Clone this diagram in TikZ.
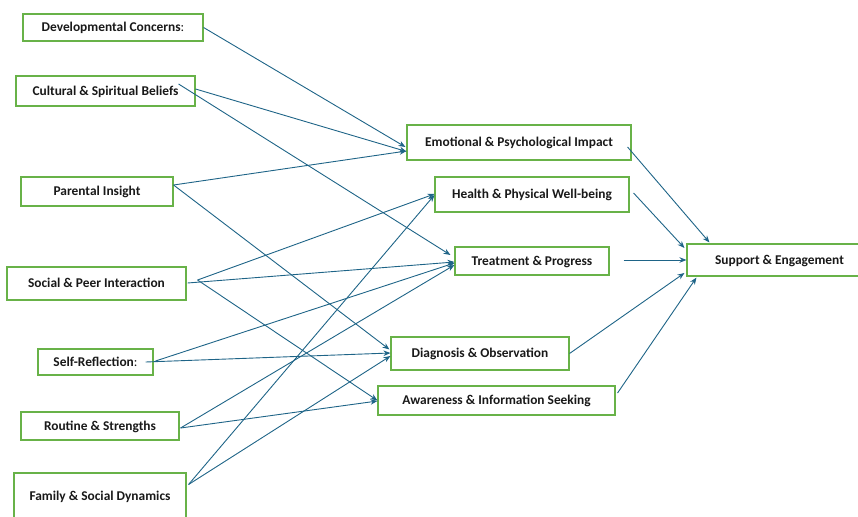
\documentclass[tikz,border=0pt]{standalone}
\usepackage{fontspec}
\setmainfont{Carlito}
\usetikzlibrary{arrows.meta,calc}
\definecolor{boxgreen}{RGB}{104,178,72}
\definecolor{edgeblue}{RGB}{30,100,135}
\tikzset{
  bx/.style={draw=boxgreen,line width=1.1pt,fill=white,inner sep=0pt,text height=8.6pt,text depth=0pt,font=\bfseries\fontsize{13.4}{15}\selectfont,text=black!90},
  conn/.style={draw=edgeblue,line width=0.9pt,-{Stealth[length=7pt,width=5.5pt]}}
}
\begin{document}
\begin{tikzpicture}[x=1pt,y=-1pt]
\useasboundingbox (0,0) rectangle (858,516);
% left column
\node[bx,minimum width=180pt,minimum height=27pt] (dev) at (113,27.5) {Developmental Concerns{\mdseries :}};
\node[bx,minimum width=179pt,minimum height=30pt] (cult) at (105.5,91) {Cultural \& Spiritual Beliefs};
\node[bx,minimum width=152pt,minimum height=29pt] (par) at (97,191.5) {Parental Insight};
\node[bx,minimum width=179pt,minimum height=33pt] (soc) at (96.5,283.5) {Social \& Peer Interaction};
\node[bx,minimum width=115pt,minimum height=26pt] (self) at (95.5,362) {Self-Reflection{\mdseries :}};
\node[bx,minimum width=158pt,minimum height=28pt] (rout) at (100,426) {Routine \& Strengths};
\node[bx,minimum width=172pt,minimum height=47pt] (fam) at (100,496.5) {Family \& Social Dynamics};
% middle column
\node[bx,minimum width=224pt,minimum height=35pt] (emo) at (519,142.5) {Emotional \& Psychological Impact};
\node[bx,minimum width=194pt,minimum height=35pt] (health) at (532,194.5) {Health \& Physical Well-being};
\node[bx,minimum width=154pt,minimum height=28pt] (treat) at (532,261) {Treatment \& Progress};
\node[bx,minimum width=178pt,minimum height=33pt] (diag) at (480,353.5) {Diagnosis \& Observation};
\node[bx,minimum width=237pt,minimum height=29pt] (aware) at (496.5,400.5) {Awareness \& Information Seeking};
% right
\node[bx,minimum width=185pt,minimum height=32pt] (supp) at (779.5,260) {Support \& Engagement};
% connectors left -> middle
\draw[conn] (dev.east) -- ($(emo.west)+(-1,4.5)$);
\draw[conn] ($(cult.east)+(0,-2)$) -- ($(emo.west)+(0,9)$);
\draw[conn] ($(cult.east)+(-17,-7)$) -- ($(treat.west)+(-4,-6)$);
\draw[conn] ($(par.east)+(0,-6.5)$) -- ($(emo.west)+(0,8.5)$);
\draw[conn] ($(par.east)+(0,-6.5)$) -- ($(diag.west)+(-1,-4)$);
\draw[conn] ($(soc.east)+(11,-3.5)$) -- ($(health.west)+(0,-0.5)$);
\draw[conn] ($(soc.east)+(1,-0.5)$) -- ($(treat.west)+(0,1)$);
\draw[conn] ($(soc.east)+(11,-3.5)$) -- ($(aware.west)+(0,0)$);
\draw[conn] ($(self.east)+(2,-1)$) -- ($(treat.west)+(0,2)$);
\draw[conn] ($(self.east)+(-8,0)$) -- ($(diag.west)+(0,-0.5)$);
\draw[conn] ($(rout.east)+(1,2)$) -- ($(treat.west)+(0,4)$);
\draw[conn] ($(rout.east)+(1,2)$) -- ($(aware.west)+(0,0.5)$);
\draw[conn] ($(fam.east)+(2,-12)$) -- ($(health.west)+(0,0.5)$);
\draw[conn] ($(fam.east)+(2,-12)$) -- ($(diag.west)+(0,2.5)$);
% connectors middle -> right
\draw[conn] ($(emo.east)+(-4,4.5)$) -- ($(supp.north west)+(23,-1)$);
\draw[conn] ($(health.east)+(4,-1.5)$) -- ($(supp.west)+(-2,-12)$);
\draw[conn] ($(treat.east)+(14,-1)$) -- ($(supp.west)+(0,0)$);
\draw[conn] (diag.east) -- ($(supp.west)+(-2,13)$);
\draw[conn] ($(aware.east)+(2,-7.5)$) -- ($(supp.south west)+(10,1)$);
\end{tikzpicture}
\end{document}
